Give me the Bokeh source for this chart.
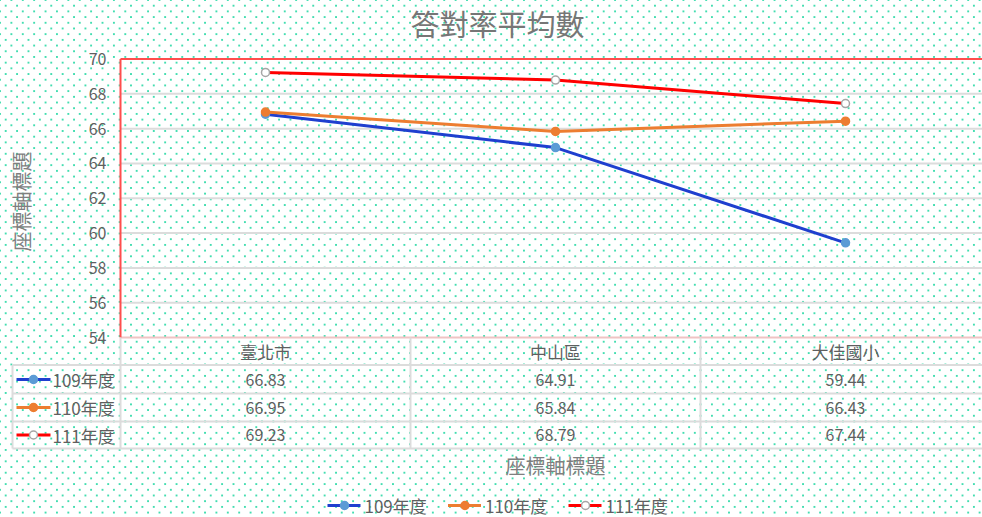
import math
from bokeh.plotting import figure
from bokeh.models import Range1d
from bokeh.core.properties import value
from bokeh.embed import file_html
from bokeh.resources import INLINE

# ---------------- data ----------------
title_text = "答對率平均數"
axis_title = "座標軸標題"
categories = ["臺北市", "中山區", "大佳國小"]
series_names = ["109年度", "110年度", "111年度"]
values_109 = [66.83, 64.91, 59.44]
values_110 = [66.95, 65.84, 66.43]
values_111 = [69.23, 68.79, 67.44]
y_ticks = [54, 56, 58, 60, 62, 64, 66, 68, 70]

# ---------------- styles ----------------
FONT = "Noto Sans CJK TC"
series = [values_109, values_110, values_111]
line_colors = ["#1f3fcf", "#ed7d31", "#ff0000"]
marker_fill = ["#5b9bd5", "#ed7d31", "#ffffff"]
marker_line = ["#5b9bd5", "#ed7d31", "#a6a6a6"]
TXT = "#5f5f5f"
GRID = "#dcdcdc"
FRAME_RED = "#ff4d4d"

W, H = 982, 517
CAT_PX = 290.0                     # pixels per category band
PLOT_LEFT = 120                    # pixel x of category axis start
Y_TOP_PX, Y_BOT_PX = 58.5, 337.0   # pixel y of top / bottom tick
y_lo, y_hi = y_ticks[0], y_ticks[-1]
PX_PER_UNIT = (Y_BOT_PX - Y_TOP_PX) / (y_hi - y_lo)


def px(pix_x):
    return (pix_x - PLOT_LEFT) / CAT_PX


def py(pix_y):
    return y_hi - (pix_y - Y_TOP_PX) / PX_PER_UNIT


xs = [i + 0.5 for i in range(len(categories))]
x_end = px(W)

dots = "radial-gradient(circle, #2bd9a6 0px, #2bd9a6 0.6px, rgba(255,255,255,0) 1.25px)"
p = figure(width=W, height=H,
           x_range=Range1d(px(0), x_end),
           y_range=Range1d(py(H), py(0)),
           output_backend="svg", toolbar_location=None,
           x_axis_location=None, y_axis_location=None,
           min_border=0, min_border_left=0, min_border_right=0,
           min_border_top=0, min_border_bottom=0,
           background_fill_color=None, border_fill_color=None,
           outline_line_color=None,
           styles={"background-image": f"{dots}, {dots}",
                   "background-size": "11.4px 11.4px",
                   "background-position": "0px 0px, 5.7px 5.7px"})
p.grid.visible = False

# ---- title ----
p.text(x=[px(497)], y=[py(22.5)], text=[title_text], text_align="center",
       text_baseline="middle", text_font=value(FONT),
       text_font_size=value("29px"), text_color="#767676")

# ---- y axis: tick labels, title ----
p.text(x=[px(106)] * len(y_ticks), y=y_ticks, text=[str(t) for t in y_ticks],
       text_align="right", text_baseline="middle", text_font=value(FONT),
       text_font_size=value("16px"), text_color=TXT)
p.text(x=[px(21)], y=[py(201)], text=[axis_title], angle=math.pi / 2,
       text_align="center", text_baseline="middle", text_font=value(FONT),
       text_font_size=value("20px"), text_color="#7f7f7f")

# ---- gridlines and plot-area border ----
inner = y_ticks[1:-1]
p.segment(x0=[0] * len(inner), y0=inner, x1=[x_end + 1] * len(inner), y1=inner,
          line_color=GRID, line_width=2)
p.segment(x0=[0], y0=[y_lo], x1=[x_end + 1], y1=[y_lo],
          line_color="#efc4c4", line_width=2)
p.segment(x0=[0, 0], y0=[y_lo, y_hi], x1=[0, x_end + 1], y1=[y_hi, y_hi],
          line_color=FRAME_RED, line_width=2)

# ---- series ----
for vals, lc, mf, ml in zip(series, line_colors, marker_fill, marker_line):
    p.line(xs, vals, line_color=lc, line_width=3)
    p.scatter(xs, vals, size=8, fill_color=mf, line_color=ml, line_width=1.5)

# ---- data table ----
p.text(x=xs, y=[py(351)] * len(xs), text=categories, text_align="center",
       text_baseline="middle", text_font=value(FONT),
       text_font_size=value("17px"), text_color=TXT)

row_lines = [py(v) for v in (364.5, 393, 421, 448)]
row_centers = [py(v) for v in (379, 407, 434.5)]
tl = px(12)
p.segment(x0=[tl] * len(row_lines), y0=row_lines,
          x1=[x_end + 1] * len(row_lines), y1=row_lines,
          line_color=GRID, line_width=2)
vx = [float(i) for i in range(len(categories))]
p.segment(x0=vx, y0=[y_lo] * len(vx), x1=vx, y1=[row_lines[-1]] * len(vx),
          line_color=GRID, line_width=2)
p.segment(x0=[tl], y0=[row_lines[0]], x1=[tl], y1=[row_lines[-1]],
          line_color=GRID, line_width=2)

for i, (name, vals) in enumerate(zip(series_names, series)):
    yc = row_centers[i]
    p.text(x=xs, y=[yc] * len(xs), text=[f"{v:.2f}" for v in vals],
           text_align="center", text_baseline="middle",
           text_font=value(FONT), text_font_size=value("16px"), text_color=TXT)
    p.segment(x0=[px(16)], y0=[yc], x1=[px(50)], y1=[yc],
              line_color=line_colors[i], line_width=3)
    p.scatter(x=[px(33)], y=[yc], size=8, fill_color=marker_fill[i],
              line_color=marker_line[i], line_width=1.5)
    p.text(x=[px(52)], y=[yc], text=[name], text_align="left",
           text_baseline="middle", text_font=value(FONT),
           text_font_size=value("17px"), text_color=TXT)

# ---- category axis title ----
p.text(x=[1.5], y=[py(465)], text=[axis_title], text_align="center",
       text_baseline="middle", text_font=value(FONT),
       text_font_size=value("20px"), text_color="#7f7f7f")

# ---- bottom legend ----
leg_y = py(505)
for i, name in enumerate(series_names):
    x0 = 327 + 120.5 * i
    p.segment(x0=[px(x0)], y0=[leg_y], x1=[px(x0 + 33)], y1=[leg_y],
              line_color=line_colors[i], line_width=3)
    p.scatter(x=[px(x0 + 17)], y=[leg_y], size=8, fill_color=marker_fill[i],
              line_color=marker_line[i], line_width=1.5)
    p.text(x=[px(x0 + 37)], y=[leg_y], text=[name], text_align="left",
           text_baseline="middle", text_font=value(FONT),
           text_font_size=value("17px"), text_color=TXT)

open("out.html", "w").write(file_html(p, INLINE))
